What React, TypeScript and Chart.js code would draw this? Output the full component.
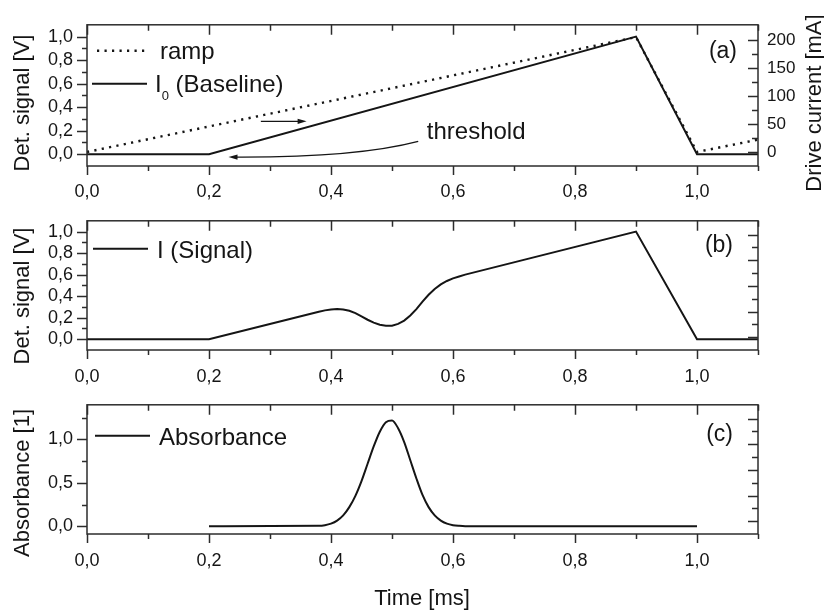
import React, { useEffect, useRef } from "react";
import { Chart, registerables } from "chart.js";

Chart.register(...registerables);

const FONT = '"Liberation Sans", Arial, Helvetica, sans-serif';
const INK = "#151515";
const FRAME = "#2c2c2c";
Chart.defaults.font.family = FONT;

// ---------- axis ticks ----------
const X_MAJOR = [0, 0.2, 0.4, 0.6, 0.8, 1.0];
const X_MINOR = [0.1, 0.3, 0.5, 0.7, 0.9, 1.1];
const V_MAJOR = [0, 0.2, 0.4, 0.6, 0.8, 1.0];
const V_MINOR = [0.1, 0.3, 0.5, 0.7, 0.9];
const MA_MAJOR = [0, 50, 100, 150, 200];
const MA_MINOR = [25, 75, 125, 175];
const ABS_MAJOR = [0, 0.5, 1.0];
const ABS_MINOR = [0.25, 0.75, 1.25];

// ---------- (a) ramp and baseline ----------
const rampTime = [0, 0.9, 1.0, 1.1];
const rampCurrent = [0, 205, 0, 22];
const baselineTime = [0, 0.2, 0.9, 1.0, 1.1];
const baselineSignal = [0, 0, 1.0, 0, 0];

// ---------- (b) signal ----------
const signalTime = [
  0, 0.2, 0.38, 0.39, 0.4, 0.41, 0.42, 0.43, 0.44, 0.45, 0.46, 0.47, 0.48, 0.49, 0.5, 0.51,
  0.52, 0.53, 0.54, 0.55, 0.56, 0.57, 0.58, 0.59, 0.6, 0.61, 0.62, 0.9, 1.0, 1.1,
];
const signalValue = [
  0, 0, 0.256, 0.268, 0.277, 0.281, 0.277, 0.264, 0.242, 0.212, 0.181, 0.154, 0.134, 0.125,
  0.126, 0.143, 0.173, 0.221, 0.28, 0.349, 0.413, 0.466, 0.509, 0.541, 0.565, 0.583, 0.6,
  1.0, 0, 0,
];

// ---------- (c) absorbance ----------
const absTime = [
  0.2, 0.38, 0.39, 0.4, 0.41, 0.42, 0.43, 0.44, 0.45, 0.46, 0.47, 0.48, 0.49, 0.5, 0.51, 0.52,
  0.53, 0.54, 0.55, 0.56, 0.57, 0.58, 0.59, 0.6, 0.61, 0.62, 1.0,
];
const absValue = [
  0, 0.005, 0.012, 0.03, 0.065, 0.125, 0.22, 0.35, 0.52, 0.72, 0.92, 1.09, 1.2, 1.22, 1.13,
  0.97, 0.76, 0.55, 0.36, 0.22, 0.125, 0.065, 0.03, 0.012, 0.004, 0, 0,
];

// annotation anchors in (ms, V) of panel (a)
const ARROW_RIGHT = { from: [0.285, 0.28], to: [0.36, 0.28] };
const ARROW_CURVE = { from: [0.543, 0.11], ctrl: [0.44, -0.03], to: [0.232, -0.024] };
const THRESHOLD_AT = [0.557, 0.128];

type Pt = { x: number; y: number };
const zip = (xs: number[], ys: number[]): Pt[] => xs.map((x, i) => ({ x, y: ys[i] }));
const comma = (v: number) => Number(v).toFixed(1).replace(".", ",");

interface LegendRow {
  ds: number;
  lineY: number;
  baseY: number;
  x0: number;
  x1: number;
  tx: number;
}
interface TitleSpec {
  text: string;
  x: number;
  y: number;
  rot: boolean;
}
interface PanelSpec {
  top: number;
  height: number;
  padTop: number;
  xH: number;
  xPad: number;
  yMin: number;
  yMax: number;
  yMajor: number[];
  yMinor: number[];
  showRight: boolean;
  datasets: any[];
  legend: LegendRow[];
  tag: string;
  tagRight: number;
  tagBase: number;
  titles: TitleSpec[];
  extra?: (chart: any) => void;
}

function drawLabel(ctx: CanvasRenderingContext2D, label: string, x: number, y: number) {
  let cx = x;
  for (const part of label.split(/(₀)/)) {
    if (!part) continue;
    if (part === "₀") {
      ctx.font = `13px ${FONT}`;
      ctx.fillText("0", cx, y + 8);
      cx += ctx.measureText("0").width;
    } else {
      ctx.font = `24px ${FONT}`;
      ctx.fillText(part, cx, y);
      cx += ctx.measureText(part).width;
    }
  }
}

function arrowHead(ctx: CanvasRenderingContext2D, tx: number, ty: number, ang: number) {
  const len = 9;
  const half = 2.6;
  ctx.beginPath();
  ctx.moveTo(tx, ty);
  ctx.lineTo(tx - len * Math.cos(ang) + half * Math.sin(ang), ty - len * Math.sin(ang) - half * Math.cos(ang));
  ctx.lineTo(tx - len * Math.cos(ang) - half * Math.sin(ang), ty - len * Math.sin(ang) + half * Math.cos(ang));
  ctx.closePath();
  ctx.fill();
}

function decoPlugin(s: PanelSpec) {
  return {
    id: "deco",
    afterDraw(chart: any) {
      const { ctx, chartArea: a, scales } = chart;
      const x = scales.x;
      const y = scales.y;
      const r = scales.y1;
      ctx.save();
      // frame
      ctx.strokeStyle = FRAME;
      ctx.lineWidth = 1.5;
      ctx.strokeRect(a.left, a.top, a.right - a.left, a.bottom - a.top);
      ctx.beginPath();
      const hx = (vals: number[], outLen: number, inLen: number) => {
        for (const v of vals) {
          const p = Math.round(x.getPixelForValue(v)) + 0.5;
          ctx.moveTo(p, a.bottom);
          ctx.lineTo(p, a.bottom + outLen);
          ctx.moveTo(p, a.top);
          ctx.lineTo(p, a.top + inLen);
        }
      };
      hx(X_MAJOR, 9, 10);
      hx(X_MINOR, 5, 6);
      const vy = (vals: number[], len: number) => {
        for (const v of vals) {
          const p = Math.round(y.getPixelForValue(v)) + 0.5;
          ctx.moveTo(a.left, p);
          ctx.lineTo(a.left - len, p);
        }
      };
      vy(s.yMajor, 10);
      vy(s.yMinor, 5);
      const vr = (vals: number[], len: number) => {
        for (const v of vals) {
          const p = Math.round(r.getPixelForValue(v)) + 0.5;
          ctx.moveTo(a.right, p);
          ctx.lineTo(a.right - len, p);
        }
      };
      vr(MA_MAJOR, 10);
      vr(MA_MINOR, 6);
      ctx.stroke();

      // legend
      ctx.fillStyle = INK;
      ctx.textBaseline = "alphabetic";
      ctx.textAlign = "left";
      for (const row of s.legend) {
        const ds = chart.data.datasets[row.ds];
        ctx.save();
        ctx.strokeStyle = ds.borderColor;
        ctx.lineWidth = ds.borderWidth;
        ctx.setLineDash(ds.borderDash || []);
        ctx.beginPath();
        ctx.moveTo(a.left + row.x0, a.top + row.lineY);
        ctx.lineTo(a.left + row.x1, a.top + row.lineY);
        ctx.stroke();
        ctx.restore();
        drawLabel(ctx, ds.label, a.left + row.tx, a.top + row.baseY);
      }

      // panel tag
      ctx.font = `23px ${FONT}`;
      ctx.textAlign = "right";
      ctx.fillText(s.tag, a.right - s.tagRight, a.top + s.tagBase);

      // axis titles (page coordinates)
      ctx.font = `22px ${FONT}`;
      ctx.textAlign = "center";
      for (const t of s.titles) {
        ctx.save();
        ctx.translate(t.x, t.y - s.top);
        if (t.rot) ctx.rotate(-Math.PI / 2);
        ctx.fillText(t.text, 0, 0);
        ctx.restore();
      }

      if (s.extra) s.extra(chart);
      ctx.restore();
    },
  };
}

function buildConfig(s: PanelSpec): any {
  const tickFont = { size: 18, family: FONT };
  return {
    type: "line",
    data: { datasets: s.datasets },
    options: {
      animation: false,
      responsive: false,
      events: [],
      layout: { padding: { top: s.padTop, left: 0, right: 0, bottom: 0 } },
      plugins: { legend: { display: false }, tooltip: { enabled: false } },
      elements: { point: { radius: 0 }, line: { borderCapStyle: "butt", borderJoinStyle: "miter" } },
      scales: {
        x: {
          type: "linear",
          min: 0,
          max: 1.1,
          afterBuildTicks: (sc: any) => {
            sc.ticks = X_MAJOR.map((v) => ({ value: v }));
          },
          afterFit: (sc: any) => {
            sc.height = s.xH;
          },
          grid: { display: false, drawTicks: false },
          border: { display: false },
          ticks: {
            padding: s.xPad,
            color: INK,
            font: tickFont,
            autoSkip: false,
            maxRotation: 0,
            callback: (v: number) => comma(v),
          },
        },
        y: {
          type: "linear",
          position: "left",
          min: s.yMin,
          max: s.yMax,
          afterBuildTicks: (sc: any) => {
            sc.ticks = s.yMajor.map((v) => ({ value: v }));
          },
          afterFit: (sc: any) => {
            sc.width = 87;
          },
          grid: { display: false, drawTicks: false },
          border: { display: false },
          ticks: { padding: 14, color: INK, font: tickFont, callback: (v: number) => comma(v) },
        },
        y1: {
          type: "linear",
          position: "right",
          min: -25,
          max: 227,
          afterBuildTicks: (sc: any) => {
            sc.ticks = MA_MAJOR.map((v) => ({ value: v }));
          },
          afterFit: (sc: any) => {
            sc.width = 66;
          },
          grid: { display: false, drawTicks: false },
          border: { display: false },
          ticks: {
            display: s.showRight,
            padding: 9,
            color: INK,
            font: { size: 17, family: FONT },
            callback: (v: number) => String(v),
          },
        },
      },
    },
    plugins: [decoPlugin(s)],
  };
}

const lineStyle = { borderColor: INK, borderWidth: 2, fill: false, pointRadius: 0 };

const PANEL_A: PanelSpec = {
  top: 0,
  height: 200,
  padTop: 16,
  xH: 34,
  xPad: 15,
  yMin: -0.1,
  yMax: 1.1,
  yMajor: V_MAJOR,
  yMinor: V_MINOR,
  showRight: true,
  datasets: [
    {
      ...lineStyle,
      label: "ramp",
      data: zip(rampTime, rampCurrent),
      yAxisID: "y1",
      borderWidth: 2.4,
      borderDash: [2.2, 5.3],
    },
    { ...lineStyle, label: "I₀ (Baseline)", data: zip(baselineTime, baselineSignal), yAxisID: "y" },
  ],
  legend: [
    { ds: 0, lineY: 26, baseY: 34, x0: 10, x1: 60, tx: 73 },
    { ds: 1, lineY: 59, baseY: 67, x0: 5, x1: 60, tx: 68 },
  ],
  tag: "(a)",
  tagRight: 21,
  tagBase: 33,
  titles: [
    { text: "Det. signal [V]", x: 29, y: 103, rot: true },
    { text: "Drive current [mA]", x: 821, y: 103, rot: true },
  ],
  extra: (chart: any) => {
    const { ctx, scales } = chart;
    const P = (p: number[]) => [scales.x.getPixelForValue(p[0]), scales.y.getPixelForValue(p[1])];
    ctx.strokeStyle = INK;
    ctx.fillStyle = INK;
    ctx.lineWidth = 1.3;
    const [ax0, ay0] = P(ARROW_RIGHT.from);
    const [ax1, ay1] = P(ARROW_RIGHT.to);
    ctx.beginPath();
    ctx.moveTo(ax0, ay0);
    ctx.lineTo(ax1 - 4, ay1);
    ctx.stroke();
    arrowHead(ctx, ax1, ay1, 0);
    const [c0x, c0y] = P(ARROW_CURVE.from);
    const [ccx, ccy] = P(ARROW_CURVE.ctrl);
    const [c1x, c1y] = P(ARROW_CURVE.to);
    ctx.beginPath();
    ctx.moveTo(c0x, c0y);
    ctx.quadraticCurveTo(ccx, ccy, c1x + 4, c1y);
    ctx.stroke();
    arrowHead(ctx, c1x, c1y, Math.atan2(c1y - ccy, c1x - ccx));
    const [tx, ty] = P(THRESHOLD_AT);
    ctx.font = `24px ${FONT}`;
    ctx.textAlign = "left";
    ctx.fillText("threshold", tx, ty);
  },
};

const PANEL_B: PanelSpec = {
  top: 196,
  height: 190,
  padTop: 4,
  xH: 36,
  xPad: 16,
  yMin: -0.1,
  yMax: 1.1,
  yMajor: V_MAJOR,
  yMinor: V_MINOR,
  showRight: false,
  datasets: [{ ...lineStyle, label: "I (Signal)", data: zip(signalTime, signalValue), yAxisID: "y" }],
  legend: [{ ds: 0, lineY: 28, baseY: 37, x0: 6, x1: 61, tx: 70 }],
  tag: "(b)",
  tagRight: 25,
  tagBase: 31,
  titles: [{ text: "Det. signal [V]", x: 29, y: 296, rot: true }],
};

const PANEL_C: PanelSpec = {
  top: 380,
  height: 230,
  padTop: 5,
  xH: 76,
  xPad: 16,
  yMin: -0.09,
  yMax: 1.4,
  yMajor: ABS_MAJOR,
  yMinor: ABS_MINOR,
  showRight: false,
  datasets: [
    {
      ...lineStyle,
      label: "Absorbance",
      data: zip(absTime, absValue),
      yAxisID: "y",
      cubicInterpolationMode: "monotone",
    },
  ],
  legend: [{ ds: 0, lineY: 31, baseY: 40, x0: 8, x1: 63, tx: 72 }],
  tag: "(c)",
  tagRight: 25,
  tagBase: 36,
  titles: [
    { text: "Absorbance [1]", x: 29, y: 483, rot: true },
    { text: "Time [ms]", x: 422, y: 605, rot: false },
  ],
};

const PANELS = [PANEL_A, PANEL_B, PANEL_C];

function Panel({ spec }: { spec: PanelSpec }) {
  const ref = useRef<HTMLCanvasElement>(null);
  useEffect(() => {
    const chart = new Chart(ref.current as HTMLCanvasElement, buildConfig(spec));
    return () => chart.destroy();
  }, [spec]);
  return (
    <canvas
      ref={ref}
      width={824}
      height={spec.height}
      style={{ position: "absolute", left: 0, top: spec.top, width: 824, height: spec.height }}
    />
  );
}

export default function App() {
  return (
    <div style={{ position: "absolute", left: 0, top: 0, width: 824, height: 610, background: "#fff" }}>
      {PANELS.map((p, i) => (
        <Panel key={i} spec={p} />
      ))}
    </div>
  );
}
